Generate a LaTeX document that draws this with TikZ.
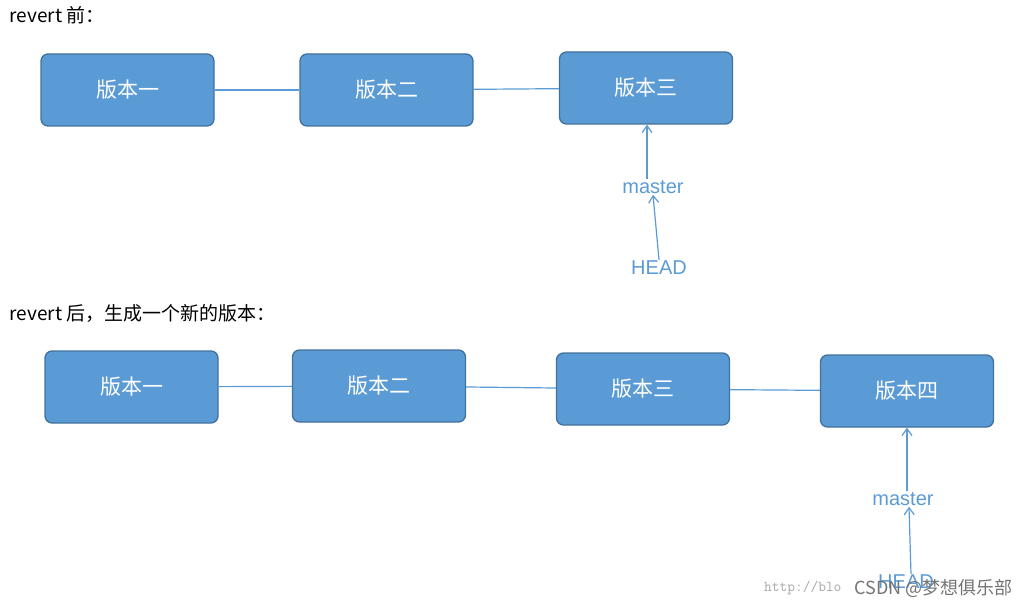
\documentclass[tikz,border=0pt]{standalone}
\usepackage{fontspec}
\setmainfont{Liberation Sans}
\newfontfamily\cjk{Noto Sans CJK SC}
\usetikzlibrary{arrows.meta}
\definecolor{boxfill}{HTML}{5B9BD5}
\definecolor{boxline}{HTML}{41719C}
\definecolor{reflabel}{HTML}{5B9BD5}
\begin{document}
\begin{tikzpicture}[x=1pt,y=-1pt,
            version/.style={rectangle, rounded corners=7pt, draw=boxline, line width=1.3pt, fill=boxfill,
              minimum width=173pt, minimum height=72pt, text=white, font=\cjk\fontsize{21}{21}\selectfont},
            link/.style={draw=boxfill, line width=1.2pt},
            pointer/.style={draw=boxfill, line width=1.2pt, -{Straight Barb[length=7pt,width=10pt]}},
            refname/.style={text=reflabel, font=\fontsize{20}{20}\selectfont, inner sep=1pt}]
            \useasboundingbox (0,0) rectangle (1029,607);
            \node[anchor=west, font=\cjk\fontsize{19}{19}\selectfont] (before) at (6,15) {revert 前：};
            \node[anchor=west, font=\cjk\fontsize{19}{19}\selectfont] (after) at (6,313) {revert 后，生成一个新的版本：};
            % before revert
            \node[version] (a1) at (127.5,90) {版本一};
            \node[version] (a2) at (386.5,90) {版本二};
            \node[version] (a3) at (646,88) {版本三};
            \node[refname] (amaster) at (653,187) {master};
            \node[refname] (ahead) at (659,268) {HEAD};
            \draw [link] (a1) -- (a2);
            \draw [link] (a2) -- (a3);
            \draw [pointer] (amaster.north -| 647,0) -- (a3.south -| 647,0);
            \draw [pointer] (ahead.north) -- (amaster.south);
            % after revert
            \node[version] (b1) at (131.5,387) {版本一};
            \node[version] (b2) at (379,386) {版本二};
            \node[version] (b3) at (643,389) {版本三};
            \node[version] (b4) at (907,391) {版本四};
            \node[refname] (bmaster) at (903,499) {master};
            \node[refname] (bhead) at (906,582) {HEAD};
            \draw [link] (b1) -- (b2);
            \draw [link] (b2) -- (b3);
            \draw [link] (b3) -- (b4);
            \draw [pointer] (bmaster.north -| 907,0) -- (b4.south -| 907,0);
            \draw [pointer] (bhead.north -| 911,0) -- (bmaster.south -| 909,0);
            % watermark
            \node[anchor=east, text=black!35, font=\ttfamily\fontsize{15}{15}\selectfont] (wurl) at (845,588) {http://blo};
            \node[anchor=east, text=black!55, font=\cjk\fontsize{18}{18}\selectfont] (wmark) at (1016,588) {CSDN @梦想俱乐部};
\end{tikzpicture}
\end{document}
